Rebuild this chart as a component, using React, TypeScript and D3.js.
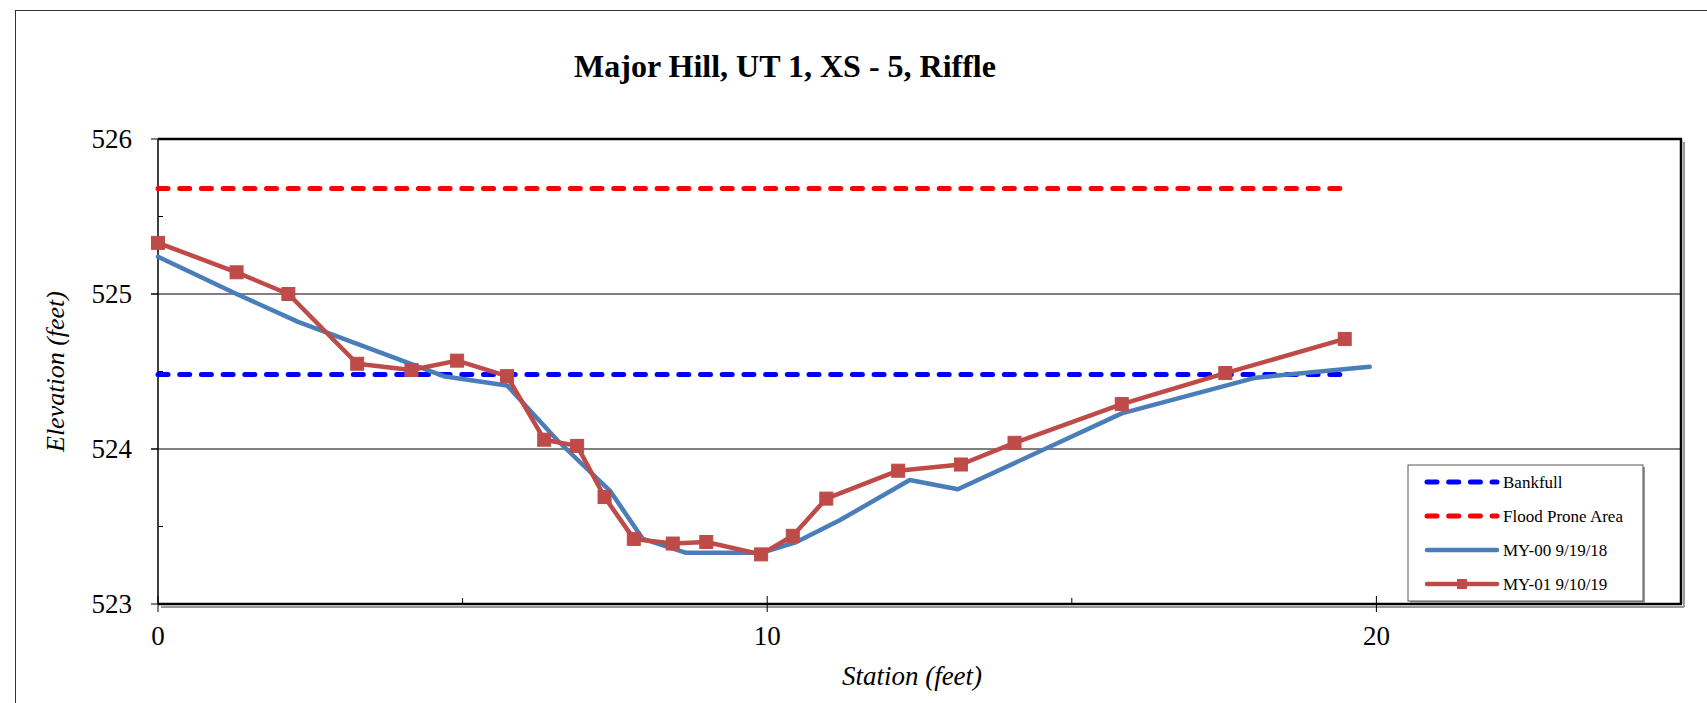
import React from "react";
import * as d3 from "d3";

const title = "Major Hill, UT 1, XS - 5, Riffle";
const xMajorTicks = [0, 10, 20];
const xMinorTicks = [5, 15];
const yMajorTicks = [523, 524, 525, 526];
const yMinorTicks = [523.5, 524.5, 525.5];
const yGridLines = [524, 525];

const bankfullElev = 524.48;
const floodProneElev = 525.68;
const refLineStations = [0, 19.45];

const my00Station = [0, 1.29, 2.3, 4.69, 5.73, 6.57, 7.42, 7.96, 8.67, 9.9, 10.48, 11.19, 12.34, 13.13, 15.82, 18.02, 19.89];
const my00Elev = [525.24, 525.0, 524.82, 524.47, 524.41, 524.05, 523.73, 523.42, 523.33, 523.33, 523.4, 523.54, 523.8, 523.74, 524.23, 524.46, 524.53];

const my01Station = [0, 1.29, 2.14, 3.27, 4.16, 4.91, 5.73, 6.34, 6.88, 7.33, 7.81, 8.45, 9.0, 9.9, 10.42, 10.97, 12.15, 13.18, 14.06, 15.82, 17.52, 19.48];
const my01Elev = [525.33, 525.14, 525.0, 524.55, 524.51, 524.57, 524.47, 524.06, 524.02, 523.69, 523.42, 523.39, 523.4, 523.32, 523.44, 523.68, 523.86, 523.9, 524.04, 524.29, 524.49, 524.71];

const legendLabels = ["Bankfull", "Flood Prone Area", "MY-00 9/19/18", "MY-01 9/10/19"];

const W = 1707;
const H = 703;
const L = 158, R = 1681, T = 139, B = 604;

const serif = '"Liberation Serif", "Times New Roman", "DejaVu Serif", serif';

export default function App() {
  const x = d3.scaleLinear().domain([0, 25]).range([L, R]);
  const y = d3.scaleLinear().domain([523, 526]).range([B, T]);
  const line = d3
    .line<[number, number]>()
    .x((d) => x(d[0]))
    .y((d) => y(d[1]));

  const my00 = my00Station.map((s, i) => [s, my00Elev[i]] as [number, number]);
  const my01 = my01Station.map((s, i) => [s, my01Elev[i]] as [number, number]);
  const bank = refLineStations.map((s) => [s, bankfullElev] as [number, number]);
  const flood = refLineStations.map((s) => [s, floodProneElev] as [number, number]);

  const blue = "#4a7ebb";
  const red = "#be4b48";
  const ms = 13;
  const ts = { fontFamily: serif } as React.CSSProperties;

  const legX = 1408, legY = 465, legW = 235, legH = 136;
  const rowY = [482, 516, 550, 584];
  const sx0 = 1427, sx1 = 1497;

  return (
    <svg
      width={W}
      height={H}
      style={{ position: "absolute", left: 0, top: 0, background: "#fff", fontFamily: serif }}
    >
      <rect x={0} y={0} width={W} height={H} fill="#fff" />
      {/* outer chart border */}
      <rect x={15.5} y={10.5} width={W} height={H} fill="none" stroke="#333" strokeWidth={1} />

      <text x={785} y={77} textAnchor="middle" fontSize={32} fontWeight="bold" fill="#000" style={ts}>
        {title}
      </text>

      {/* gridlines */}
      {yGridLines.map((v) => (
        <line key={"g" + v} x1={L - 7} x2={R} y1={y(v)} y2={y(v)} stroke="#000" strokeWidth={1} />
      ))}

      {/* plot border shadow */}
      <line x1={R + 3} x2={R + 3} y1={T + 3} y2={B + 3} stroke="#999" strokeWidth={2} />
      <line x1={L + 3} x2={R + 3} y1={B + 3} y2={B + 3} stroke="#999" strokeWidth={2} />
      {/* plot border */}
      <line x1={L} x2={R + 1} y1={T} y2={T} stroke="#000" strokeWidth={2.5} />
      <line x1={R} x2={R} y1={T} y2={B} stroke="#000" strokeWidth={2.5} />
      <line x1={L} x2={R + 1} y1={B} y2={B} stroke="#000" strokeWidth={2.5} />
      <line x1={L} x2={L} y1={T} y2={B} stroke="#000" strokeWidth={1.5} />

      {/* y ticks */}
      {yMajorTicks.map((v) => (
        <g key={"yt" + v}>
          <line x1={L - 7} x2={L} y1={y(v)} y2={y(v)} stroke="#000" strokeWidth={1} />
          <text x={132} y={y(v)} dy="0.35em" textAnchor="end" fontSize={27} fill="#000" style={ts}>
            {v}
          </text>
        </g>
      ))}
      {yMinorTicks.map((v) => (
        <line key={"ym" + v} x1={L} x2={L + 5} y1={y(v)} y2={y(v)} stroke="#000" strokeWidth={1} />
      ))}

      {/* x ticks */}
      {xMajorTicks.map((v) => (
        <g key={"xt" + v}>
          <line x1={x(v)} x2={x(v)} y1={B - 8} y2={B + 8} stroke="#000" strokeWidth={1} />
          <text x={x(v)} y={645} textAnchor="middle" fontSize={27} fill="#000" style={ts}>
            {v}
          </text>
        </g>
      ))}
      {xMinorTicks.map((v) => (
        <line key={"xm" + v} x1={x(v)} x2={x(v)} y1={B - 6} y2={B} stroke="#000" strokeWidth={1} />
      ))}

      {/* axis titles */}
      <text
        transform={`translate(64, ${(T + B) / 2}) rotate(-90)`}
        textAnchor="middle"
        fontSize={26}
        fontStyle="italic"
        fill="#000"
        style={ts}
      >
        Elevation (feet)
      </text>
      <text x={912} y={685} textAnchor="middle" fontSize={27} fontStyle="italic" fill="#000" style={ts}>
        Station (feet)
      </text>

      {/* reference lines */}
      <path d={line(flood) || ""} fill="none" stroke="#ff0000" strokeWidth={5} strokeDasharray="10 11.7" strokeLinecap="round" />
      <path d={line(bank) || ""} fill="none" stroke="#0000ff" strokeWidth={5} strokeDasharray="10 11.7" strokeLinecap="round" />

      {/* series */}
      <path d={line(my00) || ""} fill="none" stroke={blue} strokeWidth={4.5} strokeLinejoin="round" strokeLinecap="round" />
      <path d={line(my01) || ""} fill="none" stroke={red} strokeWidth={4.5} strokeLinejoin="round" strokeLinecap="round" />
      {my01.map((d, i) => (
        <rect key={"m" + i} x={x(d[0]) - ms / 2} y={y(d[1]) - ms / 2} width={ms} height={ms} fill={red} stroke={red} strokeWidth={1} />
      ))}

      {/* legend */}
      <rect x={legX + 2} y={legY + 2} width={legW} height={legH} fill="#999" />
      <rect x={legX} y={legY} width={legW} height={legH} fill="#fff" stroke="#555" strokeWidth={1} />
      <line x1={sx0} x2={sx1} y1={rowY[0]} y2={rowY[0]} stroke="#0000ff" strokeWidth={5} strokeDasharray="10 11.7" strokeLinecap="round" />
      <line x1={sx0} x2={sx1} y1={rowY[1]} y2={rowY[1]} stroke="#ff0000" strokeWidth={5} strokeDasharray="10 11.7" strokeLinecap="round" />
      <line x1={sx0} x2={sx1} y1={rowY[2]} y2={rowY[2]} stroke={blue} strokeWidth={4.5} strokeLinecap="round" />
      <line x1={sx0} x2={sx1} y1={rowY[3]} y2={rowY[3]} stroke={red} strokeWidth={4.5} strokeLinecap="round" />
      <rect x={(sx0 + sx1) / 2 - 5} y={rowY[3] - 5} width={10} height={10} fill={red} />
      {legendLabels.map((t, i) => (
        <text key={t} x={1503} y={rowY[i]} dy="0.35em" fontSize={17} fill="#000" style={ts}>
          {t}
        </text>
      ))}
    </svg>
  );
}
